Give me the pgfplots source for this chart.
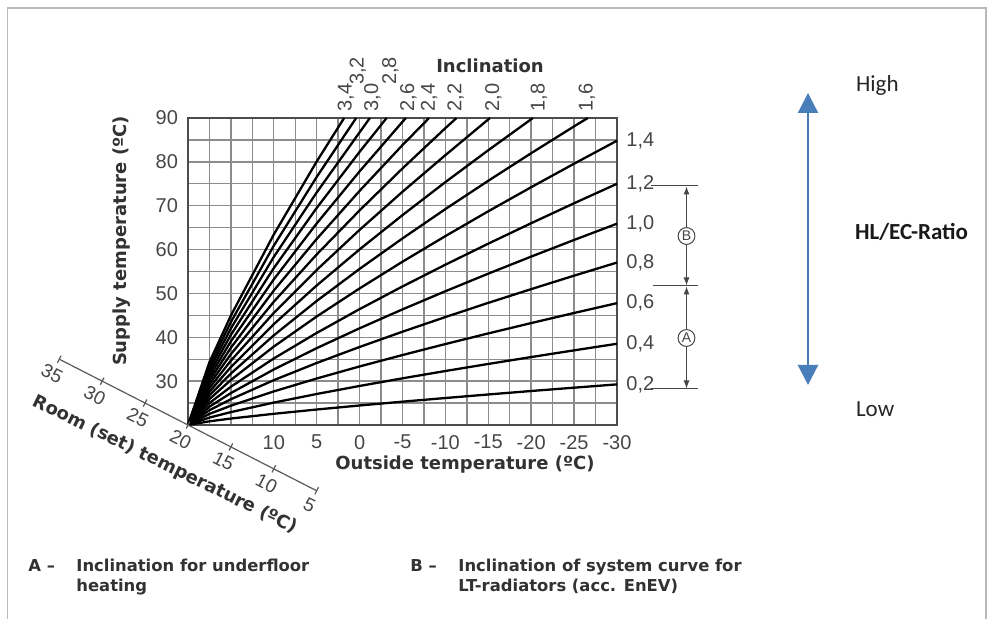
\documentclass[border=0pt]{standalone}
\usepackage{pgfplots}
\pgfplotsset{compat=1.18}
\usepackage{fontspec}
\setmainfont{Liberation Sans}
\newfontfamily\vbf{DejaVu Sans}
\newfontfamily\calib{Carlito}
\usetikzlibrary{arrows.meta}
\definecolor{txt}{RGB}{50,50,50}
\definecolor{tk}{RGB}{70,70,70}
\definecolor{gridc}{RGB}{140,140,140}
\definecolor{blu}{RGB}{74,126,187}
\newcommand{\ttl}{\vbf\bfseries\fontsize{9}{11}\selectfont}
\newcommand{\btx}{\vbf\bfseries\fontsize{8.2}{10}\selectfont}
\newcommand{\lbl}{\fontsize{10}{12}\selectfont}
\tikzset{rl/.style={rotate=-27, anchor=north, inner sep=4.5pt, font=\fontsize{9.5}{11}\selectfont, text=tk},
         rtl/.style={anchor=west, inner sep=1pt, xshift=3.5pt, font=\lbl, text=tk},
         tpl/.style={rotate=90, anchor=west, inner sep=1pt, font=\lbl, text=tk}}
\begin{document}
\begin{tikzpicture}
\begin{scope}[x=0.5pt,y=0.5pt]
\path (0,0) rectangle (989,619);
\draw[gray!55, line width=0.6pt] (7.5,0) -- (7.5,611) -- (986,611) -- (986,0);
\end{scope}
\begin{axis}[
  at={(94pt,97pt)}, anchor=south west,
  scale only axis, width=214.5pt, height=153.5pt,
  x dir=reverse, xmin=-30, xmax=20, ymin=20, ymax=90,
  xtick={-30,-25,-20,-15,-10,-5,0,5,10},
  xticklabels={-30,-25,-20,-15,-10,-5,0,5,10},
  minor xtick={-27.5,-22.5,-17.5,-12.5,-7.5,-2.5,2.5,7.5,12.5,15,17.5},
  ytick={30,40,50,60,70,80,90},
  yticklabels={30,40,50,60,70,80,90},
  minor ytick={25,35,45,55,65,75,85},
  grid=both,
  major grid style={draw=gridc, line width=0.7pt},
  minor grid style={draw=gridc, line width=0.7pt},
  major tick length=0pt, minor tick length=0pt,
  axis line style={draw=gray!60!black, line width=0.8pt},
  tick label style={font=\lbl, text=tk},
  xticklabel style={yshift=-1.5pt},
  yticklabel style={xshift=-1.5pt},
  clip=false,
]
% heating curves
\addplot[black, line width=1.15pt] coordinates {(20,20)(17.5,20.84)(15,21.47)(10,22.55)(5,23.53)(0,24.45)(-5,25.32)(-10,26.15)(-15,26.96)(-20,27.75)(-25,28.51)(-30,29.26)};
\addplot[black, line width=1.15pt] coordinates {(20,20)(17.5,21.69)(15,22.94)(10,25.11)(5,27.07)(0,28.90)(-5,30.64)(-10,32.31)(-15,33.92)(-20,35.49)(-25,37.02)(-30,38.52)};
\addplot[black, line width=1.15pt] coordinates {(20,20)(17.5,22.53)(15,24.40)(10,27.66)(5,30.60)(0,33.35)(-5,35.95)(-10,38.46)(-15,40.88)(-20,43.24)(-25,45.54)(-30,47.78)};
\addplot[black, line width=1.15pt] coordinates {(20,20)(17.5,23.37)(15,25.87)(10,30.22)(5,34.14)(0,37.79)(-5,41.27)(-10,44.61)(-15,47.85)(-20,50.98)(-25,54.05)(-30,57.04)};
\addplot[black, line width=1.15pt] coordinates {(20,20)(17.5,24.18)(15,27.28)(10,32.66)(5,37.52)(0,42.05)(-5,46.36)(-10,50.50)(-15,54.51)(-20,58.40)(-25,62.19)(-30,65.90)};
\addplot[black, line width=1.15pt] coordinates {(20,20)(17.5,25.01)(15,28.72)(10,35.17)(5,40.99)(0,46.42)(-5,51.59)(-10,56.55)(-15,61.35)(-20,66.01)(-25,70.56)(-30,75.00)};
\addplot[black, line width=1.15pt] coordinates {(20,20)(17.5,25.90)(15,30.27)(10,37.88)(5,44.74)(0,51.14)(-5,57.23)(-10,63.07)(-15,68.73)(-20,74.22)(-25,79.58)(-30,84.82)};
\addplot[black, line width=1.15pt] coordinates {(20,20)(17.5,26.74)(15,31.74)(10,40.44)(5,48.28)(0,55.59)(-5,62.54)(-10,69.23)(-15,75.69)(-20,81.97)(-25,88.09)(-26.6,90)};
\addplot[black, line width=1.15pt] coordinates {(20,20)(17.5,27.58)(15,33.21)(10,42.99)(5,51.81)(0,60.04)(-5,67.86)(-10,75.38)(-15,82.65)(-20.2,90)};
\addplot[black, line width=1.15pt] coordinates {(20,20)(17.5,28.43)(15,34.68)(10,45.55)(5,55.35)(0,64.49)(-5,73.18)(-10,81.53)(-15.2,90)};
\addplot[black, line width=1.15pt] coordinates {(20,20)(17.5,29.27)(15,36.15)(10,48.10)(5,58.88)(0,68.93)(-5,78.50)(-10,87.69)(-11.3,90)};
\addplot[black, line width=1.15pt] coordinates {(20,20)(17.5,30.11)(15,37.61)(10,50.66)(5,62.41)(0,73.38)(-5,83.82)(-8.1,90)};
\addplot[black, line width=1.15pt] coordinates {(20,20)(17.5,30.95)(15,39.08)(10,53.21)(5,65.95)(0,77.83)(-5,89.13)(-5.4,90)};
\addplot[black, line width=1.15pt] coordinates {(20,20)(17.5,31.80)(15,40.55)(10,55.77)(5,69.48)(0,82.28)(-3.15,90)};
\addplot[black, line width=1.15pt] coordinates {(20,20)(17.5,32.64)(15,42.02)(10,58.32)(5,73.02)(0,86.73)(-1.2,90)};
\addplot[black, line width=1.15pt] coordinates {(20,20)(17.5,33.48)(15,43.48)(10,60.88)(5,76.55)(0.4,90)};
\addplot[black, line width=1.15pt] coordinates {(20,20)(17.5,34.33)(15,44.95)(10,63.43)(5,80.08)(1.8,90)};
% room (set) temperature axis
\addplot[gray!70!black, line width=0.6pt, mark=|, mark size=2pt, mark options={rotate=-27, solid}] coordinates {(35,35)(30,30)(25,25)(20,20)(15,15)(10,10)(5,5)};
\node[rl] at (axis cs:35,35) {35};
\node[rl] at (axis cs:30,30) {30};
\node[rl] at (axis cs:25,25) {25};
\node[rl] at (axis cs:20,20) {20};
\node[rl] at (axis cs:15,15) {15};
\node[rl] at (axis cs:10,10) {10};
\node[rl] at (axis cs:5,5) {5};
% right labels
\node[rtl] at (axis cs:-30,84.82) {1,4};
\node[rtl] at (axis cs:-30,75.00) {1,2};
\node[rtl] at (axis cs:-30,65.90) {1,0};
\node[rtl] at (axis cs:-30,57.04) {0,8};
\node[rtl] at (axis cs:-30,47.78) {0,6};
\node[rtl] at (axis cs:-30,38.52) {0,4};
\node[rtl] at (axis cs:-30,29.26) {0,2};
% top labels
\node[tpl] at (axis cs:1.6,91) {3,4};
\node[tpl] at (axis cs:0.2,97) {3,2};
\node[tpl] at (axis cs:-1.5,91) {3,0};
\node[tpl] at (axis cs:-3.6,97) {2,8};
\node[tpl] at (axis cs:-5.7,91) {2,6};
\node[tpl] at (axis cs:-8.1,91) {2,4};
\node[tpl] at (axis cs:-11.2,91) {2,2};
\node[tpl] at (axis cs:-15.6,91) {2,0};
\node[tpl] at (axis cs:-20.9,91) {1,8};
\node[tpl] at (axis cs:-26.5,91) {1,6};
\end{axis}
\begin{scope}[x=0.5pt,y=0.5pt]
% titles
\node[font=\ttl, text=txt] at (490,{619-66}) {Inclination};
\node[font=\ttl, text=txt, rotate=90] at (122,{619-241}) {Supply temperature (ºC)};
\node[font=\ttl, text=txt] at (465,{619-465}) {Outside temperature (ºC)};
\node[font=\ttl, text=txt, rotate=-26] at (165,{619-465}) {Room (set) temperature (ºC)};
% brackets A/B
\draw[tk, line width=0.5pt] (651,{619-185.7}) -- (698,{619-185.7});
\draw[tk, line width=0.5pt] (653,{619-286}) -- (698,{619-286});
\draw[tk, line width=0.5pt] (651,{619-389}) -- (698,{619-389});
\draw[tk, line width=0.5pt, {Latex[length=4pt,width=3pt]}-{Latex[length=4pt,width=3pt]}] (686.5,{619-186.5}) -- (686.5,{619-285.5});
\draw[tk, line width=0.5pt, {Latex[length=4pt,width=3pt]}-{Latex[length=4pt,width=3pt]}] (686.5,{619-286.5}) -- (686.5,{619-388.5});
\node[draw=tk, fill=white, circle, line width=0.5pt, inner sep=0.6pt, minimum size=8pt, font=\fontsize{7}{8}\selectfont, text=tk] at (686.5,{619-236}) {B};
\node[draw=tk, fill=white, circle, line width=0.5pt, inner sep=0.6pt, minimum size=8pt, font=\fontsize{7}{8}\selectfont, text=tk] at (686.5,{619-338}) {A};
% HL/EC ratio arrow
\draw[blu, line width=1.1pt, {Triangle[width=10pt,length=10pt]}-{Triangle[width=10pt,length=10pt]}] (808,{619-93}) -- (808,{619-385});
\node[font=\calib\fontsize{11.5}{13}\selectfont, text=black!85, anchor=west] at (849,{619-86}) {High};
\node[font=\calib\bfseries\fontsize{11.5}{13}\selectfont, text=black!90, anchor=west] at (848,{619-232}) {HL/EC-Ratio};
\node[font=\calib\fontsize{11.5}{13}\selectfont, text=black!85, anchor=west] at (849,{619-409}) {Low};
% bottom notes
\node[font=\btx, text=txt, anchor=base west, inner sep=0pt] at (28,{619-572}) {A –};
\node[font=\btx, text=txt, anchor=base west, inner sep=0pt] at (76,{619-572}) {Inclination for underfloor};
\node[font=\btx, text=txt, anchor=base west, inner sep=0pt] at (76,{619-592}) {heating};
\node[font=\btx, text=txt, anchor=base west, inner sep=0pt] at (410,{619-572}) {B –};
\node[font=\btx, text=txt, anchor=base west, inner sep=0pt] at (458,{619-572}) {Inclination of system curve for};
\node[font=\btx, text=txt, anchor=base west, inner sep=0pt] at (458,{619-592}) {LT-radiators (acc. EnEV)};
\end{scope}
\end{tikzpicture}
\end{document}
